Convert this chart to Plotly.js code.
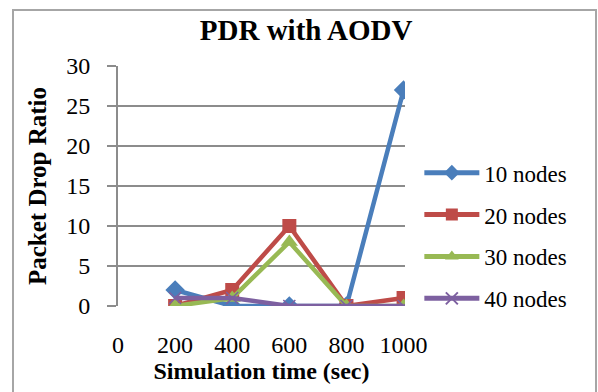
<!DOCTYPE html>
<html>
<head>
<meta charset="utf-8">
<script src="https://cdn.plot.ly/plotly-3.0.1.min.js"></script>
<style>
  html, body { margin: 0; padding: 0; background: #fff; }
  #wrap { position: relative; width: 598px; height: 392px; overflow: hidden; }
  #chart { position: absolute; left: 0; top: 0; width: 598px; height: 392px; }
  #frame { position: absolute; left: 12px; top: 9px; width: 581px; height: 400px;
           border: 2px solid #a6a6a6; pointer-events: none; }
</style>
</head>
<body>
<div id="wrap">
  <div id="chart"></div>
  <div id="frame"></div>
</div>
<script>
const times = [200, 400, 600, 800, 1000];
const nodes10 = [2, 0, 0, 0, 27];
const nodes20 = [0, 2, 10, 0, 1];
const nodes30 = [0, 1, 8, 0, 0];
const nodes40 = [1, 1, 0, 0, 0];
const seriesNames = ['10 nodes', '20 nodes', '30 nodes', '40 nodes'];
const xTicks = [0, 200, 400, 600, 800, 1000];
const yTicks = [0, 5, 10, 15, 20, 25, 30];

const colors = ['#4a7ebb', '#be4b48', '#98b954', '#7d60a0'];
const symbols = ['diamond', 'square', 'triangle-up', 'x-thin-open'];
const sizes = [15, 14, 15, 12];
const data = [nodes10, nodes20, nodes30, nodes40].map((ys, i) => ({
  type: 'scatter',
  mode: 'lines+markers',
  x: times,
  y: ys,
  name: seriesNames[i],
  legendgroup: 'g' + i,
  line: { color: colors[i], width: 4.5 },
  marker: { symbol: symbols[i], size: sizes[i], color: colors[i],
            line: { color: colors[i], width: i === 3 ? 1.5 : 0 } }
}));

const layout = {
  width: 598, height: 392,
  margin: { l: 118, r: 193, t: 66, b: 86 },
  paper_bgcolor: '#ffffff', plot_bgcolor: '#ffffff',
  showlegend: true,
  title: { text: '<b>PDR with AODV</b>', x: 0.512, xref: 'container', y: 0.925, yanchor: 'middle',
           font: { family: 'Liberation Serif', size: 29, color: '#000' } },
  xaxis: {
    range: [0, 1005], tickvals: xTicks, ticktext: xTicks.map(String),
    showgrid: false, zeroline: false, showline: false,
    ticks: '', ticklabelstandoff: 22,
    tickfont: { family: 'Liberation Serif', size: 24, color: '#000' },
    title: { text: '<b>Simulation time (sec)</b>', standoff: 3,
             font: { family: 'Liberation Serif', size: 24, color: '#000' } }
  },
  yaxis: {
    range: [0, 30], tickvals: yTicks,
    showgrid: true, gridcolor: '#8c8c8c', gridwidth: 1.5,
    zeroline: false, showline: true, linecolor: '#8c8c8c', linewidth: 2,
    ticks: 'outside', ticklen: 9, tickcolor: '#8c8c8c', tickwidth: 1.5,
    ticklabelstandoff: 12,
    tickfont: { family: 'Liberation Serif', size: 24, color: '#000' },
    title: { text: '<b>Packet Drop Ratio</b>', standoff: 12,
             font: { family: 'Liberation Serif', size: 25, color: '#000' } }
  },
  legend: {
    x: 1.05, xanchor: 'left', y: 0.645, yanchor: 'top',
    font: { family: 'Liberation Serif', size: 23, color: '#000' },
    itemwidth: 55, tracegroupgap: 9, itemsizing: 'constant', bgcolor: 'rgba(0,0,0,0)'
  }
};

Plotly.newPlot('chart', data, layout, { displayModeBar: false, staticPlot: true });
</script>
</body>
</html>
